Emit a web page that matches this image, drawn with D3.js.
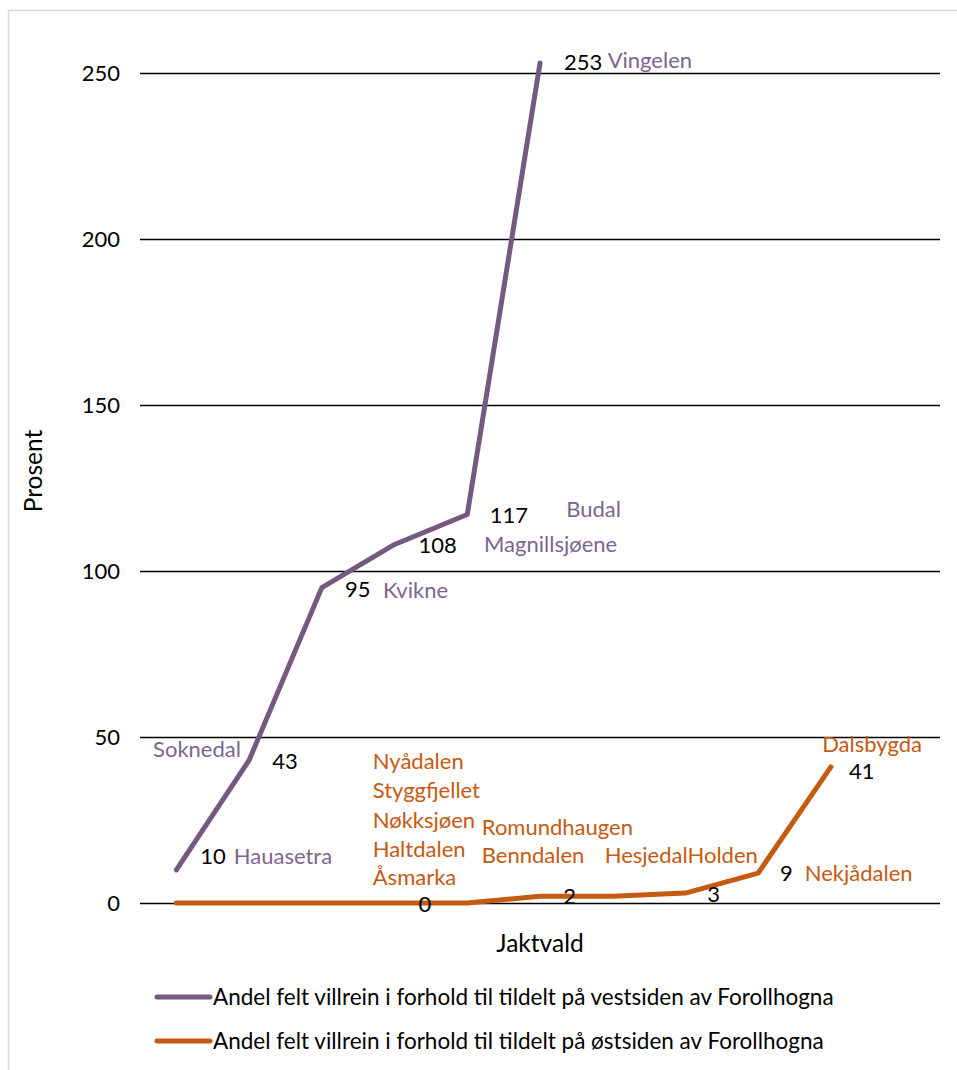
<!DOCTYPE html>
<html>
<head>
<meta charset="utf-8">
<script src="https://cdn.jsdelivr.net/npm/d3@7"></script>
<style>
  body { margin: 0; background: #fff; }
  text { font-family: Lato, "Open Sans", sans-serif; }
</style>
</head>
<body>
<svg id="chart" width="957" height="1070"></svg>
<script>
// ---------- DATA ----------
const categories = ["1","2","3","4","5","6","7","8","9","10","11"];
const westValues = [10, 43, 95, 108, 117, 253];
const eastValues = [0, 0, 0, 0, 0, 2, 2, 3, 9, 41];
const yTicks = [0, 50, 100, 150, 200, 250];
const seriesNames = [
  "Andel felt villrein i forhold til tildelt på vestsiden av Forollhogna",
  "Andel felt villrein i forhold til tildelt på østsiden av Forollhogna"
];
// value labels: [text, category position, value position]
const westValueLabels = [["10",0.33,11.7],["43",1.32,40.4],["95",2.32,92.2],["108",3.33,105.4],["117",4.31,114.5],["253",5.33,251]];
const eastValueLabels = [["0",3.33,-2.7],["2",5.32,-0.3],["3",7.3,0.3],["9",8.3,6.6],["41",9.25,37.5]];
// name labels: [text, category position, value position]
const westNameLabels = [["Hauasetra",0.79,11.7],["Soknedal",-0.32,44],["Kvikne",2.84,91.9],["Magnillsjøene",4.23,105.7],["Budal",5.36,116.3],["Vingelen",5.93,251.6]];
const eastNameLabels = [["Nyådalen",2.7,40.4],["Styggfjellet",2.7,31.6],["Nøkksjøen",2.7,22.6],["Haltdalen",2.7,13.9],["Åsmarka",2.7,5.4],
  ["Romundhaugen",4.2,20.5],["Benndalen",4.2,12.0],["HesjedalHolden",5.89,12.0],["Nekjådalen",8.64,6.6],["Dalsbygda",8.88,45.4]];

// ---------- SETUP ----------
const purple = "#75597f", purpleText = "#7d6590";
const orange = "#c55a11";
const svg = d3.select("#chart");
const pLeft = 140, pRight = 940, pTop = 73, pBottom = 903;
const fs = 22;

// frame
svg.append("rect").attr("x", 8.5).attr("y", 10.5).attr("width", 960).attr("height", 1080)
  .attr("fill", "none").attr("stroke", "#d9d9d9").attr("stroke-width", 1.5);

const x = d3.scaleBand().domain(categories).range([pLeft, pRight]).padding(0);
const xc = i => x(categories[i]) + x.bandwidth() / 2;
const xPos = d3.scaleLinear().domain([-0.5, categories.length - 0.5]).range([pLeft, pRight]);
const y = d3.scaleLinear().domain([0, 250]).range([pBottom, pTop]);

// grid + y axis labels
const yAxis = d3.axisLeft(y).tickValues(yTicks).tickSize(-(pRight - pLeft)).tickPadding(20);
const gy = svg.append("g").attr("transform", `translate(${pLeft},0)`).call(yAxis);
gy.select(".domain").remove();
gy.selectAll(".tick line").attr("stroke", "#000").attr("stroke-width", 1.4);
gy.selectAll(".tick text").attr("font-size", fs).attr("fill", "#000")
  .style("font-family", "Lato, sans-serif");

// axis titles
svg.append("text").attr("transform", `translate(42,471) rotate(-90)`)
  .attr("text-anchor", "middle").attr("font-size", 24.5).attr("fill", "#000").text("Prosent");
svg.append("text").attr("x", 540).attr("y", 952).attr("text-anchor", "middle")
  .attr("font-size", 24.5).attr("fill", "#000").text("Jaktvald");

// lines
const line = d3.line().x((d, i) => xc(i)).y(d => y(d));
svg.append("path").datum(eastValues).attr("d", line).attr("fill", "none")
  .attr("stroke", orange).attr("stroke-width", 5).attr("stroke-linecap", "round").attr("stroke-linejoin", "round");
svg.append("path").datum(westValues).attr("d", line).attr("fill", "none")
  .attr("stroke", purple).attr("stroke-width", 5).attr("stroke-linecap", "round").attr("stroke-linejoin", "round");

// labels
function addLabels(arr, color) {
  svg.append("g").selectAll("text").data(arr).join("text")
    .attr("x", d => xPos(d[1])).attr("y", d => y(d[2]))
    .attr("font-size", fs).attr("fill", color).text(d => d[0]);
}
addLabels(westValueLabels, "#000");
addLabels(eastValueLabels, "#000");
addLabels(westNameLabels, purpleText);
addLabels(eastNameLabels, orange);

// legend
const lg = svg.append("g").selectAll("g").data(seriesNames).join("g")
  .attr("transform", (d, i) => `translate(0,${997 + i * 44})`);
lg.append("line").attr("x1", 157).attr("x2", 210).attr("y1", 0).attr("y2", 0)
  .attr("stroke", (d, i) => i === 0 ? purple : orange).attr("stroke-width", 5).attr("stroke-linecap", "round");
lg.append("text").attr("x", 213).attr("y", 8).attr("font-size", 22.5).attr("fill", "#000").text(d => d);
</script>
</body>
</html>
